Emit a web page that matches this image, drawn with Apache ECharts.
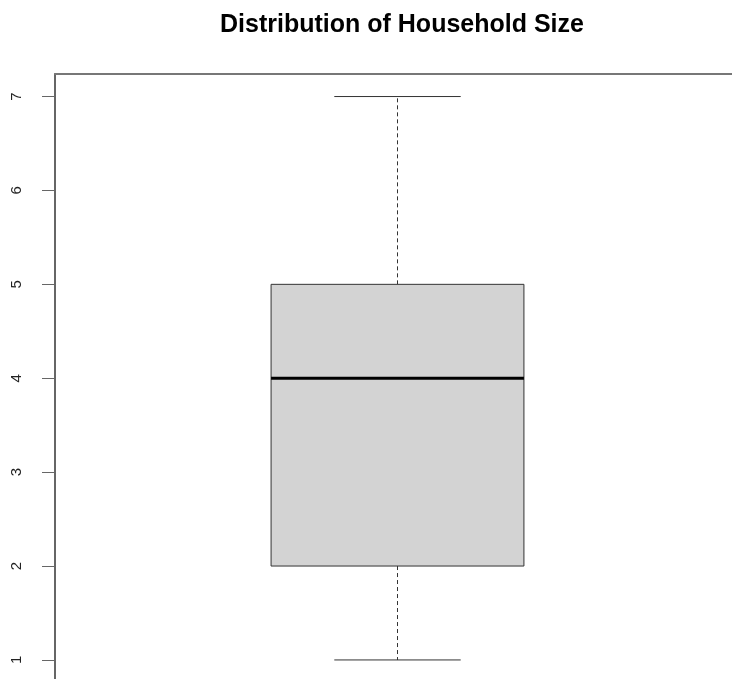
<!DOCTYPE html>
<html>
<head>
<meta charset="utf-8">
<script src="https://cdn.jsdelivr.net/npm/echarts@6/dist/echarts.min.js"></script>
<style>
  html, body { margin: 0; padding: 0; background: #fff; }
  #chart { width: 732px; height: 679px; }
</style>
</head>
<body>
<div id="chart"></div>
<script>
// 箱线图统计量: 最小值 / 下四分位 / 中位数 / 上四分位 / 最大值
var boxPosition = [1];
var boxMin = [1];
var boxQ1 = [2];
var boxMedian = [4];
var boxQ3 = [5];
var boxMax = [7];
var yTicks = [1, 2, 3, 4, 5, 6, 7];

var boxData = boxPosition.map(function (p, i) {
  return [p, boxMin[i], boxQ1[i], boxMedian[i], boxQ3[i], boxMax[i]];
});

var myChart = echarts.init(document.getElementById("chart"));

function renderBox(params, api) {
  var x = api.value(0);
  var lo = api.coord([x, api.value(1)]);
  var q1 = api.coord([x, api.value(2)]);
  var med = api.coord([x, api.value(3)]);
  var q3 = api.coord([x, api.value(4)]);
  var hi = api.coord([x, api.value(5)]);
  var boxHalf = api.coord([x + 0.2, 0])[0] - lo[0];
  var capHalf = api.coord([x + 0.1, 0])[0] - lo[0];
  var cx = Math.round(lo[0]) + 0.5; // 1px 线条对齐像素
  var whisker = { stroke: "#333", lineWidth: 1, lineDash: [4, 3] };
  var solid = { stroke: "#333", lineWidth: 1 };
  return {
    type: "group",
    children: [
      { type: "line", shape: { x1: cx, y1: q3[1], x2: cx, y2: hi[1] }, style: whisker },
      { type: "line", shape: { x1: cx, y1: q1[1], x2: cx, y2: lo[1] }, style: whisker },
      { type: "line", shape: { x1: cx - capHalf, y1: hi[1], x2: cx + capHalf, y2: hi[1] }, style: solid },
      { type: "line", shape: { x1: cx - capHalf, y1: lo[1], x2: cx + capHalf, y2: lo[1] }, style: solid },
      {
        type: "rect",
        shape: { x: cx - boxHalf, y: q3[1], width: boxHalf * 2, height: q1[1] - q3[1] },
        style: { fill: "#d3d3d3", stroke: "#333", lineWidth: 1 }
      },
      { type: "line", shape: { x1: cx - boxHalf, y1: med[1], x2: cx + boxHalf, y2: med[1] }, style: { stroke: "#000", lineWidth: 3 } }
    ]
  };
}

var option = {
  animation: false,
  title: {
    text: "Distribution of Household Size",
    left: 397,
    top: 8,
    textAlign: "center",
    textStyle: {
      fontFamily: "Liberation Sans",
      fontSize: 25,
      fontWeight: "bold",
      color: "#000"
    }
  },
  grid: {
    left: 55,
    right: 0,
    top: 74,
    bottom: 0
  },
  xAxis: {
    type: "value",
    position: "top",
    min: 0.459,
    max: 1.53,
    axisLine: { show: true, onZero: false, lineStyle: { color: "#777", width: 2 } },
    axisTick: { show: false },
    axisLabel: { show: false },
    splitLine: { show: false }
  },
  yAxis: {
    type: "value",
    min: 0.797,
    max: 7.24,
    axisLine: { show: true, onZero: false, lineStyle: { color: "#666", width: 2 } },
    splitLine: { show: false },
    axisTick: {
      show: true,
      length: 13,
      customValues: yTicks,
      lineStyle: { color: "#666", width: 1 }
    },
    axisLabel: {
      customValues: yTicks,
      rotate: 90,
      margin: 31,
      fontFamily: "Liberation Sans",
      fontSize: 15,
      color: "#222"
    }
  },
  series: [
    {
      type: "custom",
      renderItem: renderBox,
      encode: { x: 0, y: [1, 2, 3, 4, 5] },
      data: boxData
    }
  ]
};

myChart.setOption(option);
</script>
</body>
</html>
